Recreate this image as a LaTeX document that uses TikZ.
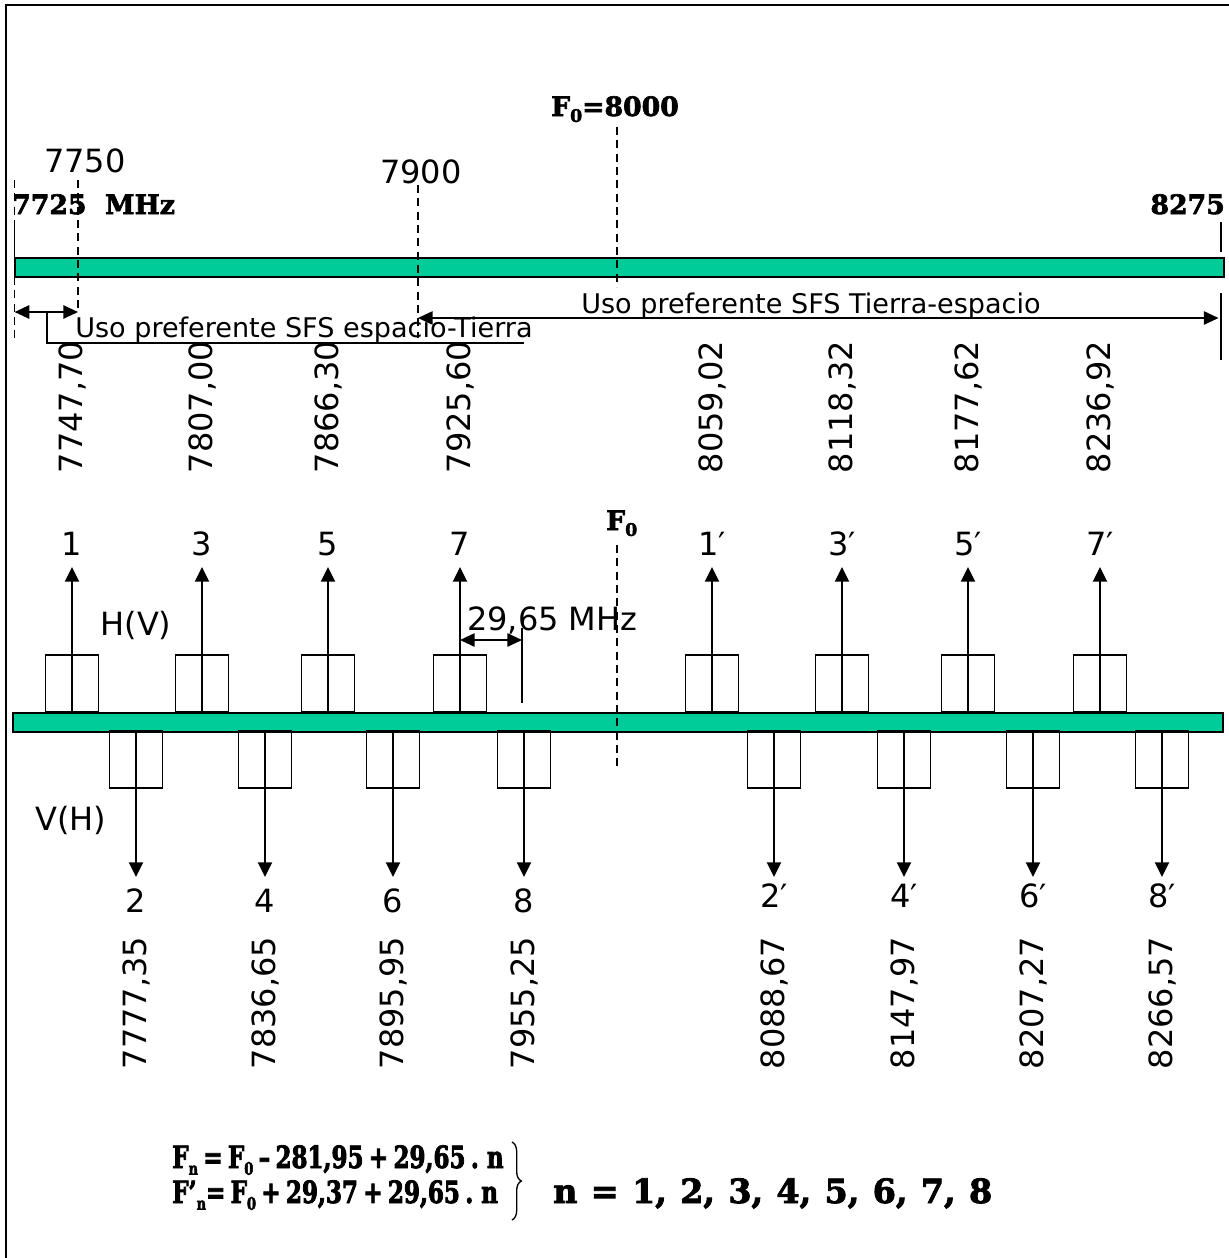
\documentclass[tikz,border=0pt]{standalone}
\usepackage{fontspec}
\setmainfont{DejaVu Sans}
\newfontfamily\heavyserif{DejaVu Serif Bold}[FakeBold=2.5]
\newfontfamily\eqserif{DejaVu Serif Bold}[FakeBold=2.5,FakeStretch=0.75]
\usetikzlibrary{arrows.meta,decorations.pathreplacing}
\definecolor{bandgreen}{RGB}{0,204,153}
\newcommand\bigtxt{\fontsize{24}{28}\selectfont}
\newcommand\smalltxt{\fontsize{20.3}{24}\selectfont}
\newcommand\heavytxt{\heavyserif\fontsize{20}{24}\selectfont}
\newcommand\eqtxt{\eqserif\fontsize{23}{27}\selectfont\spaceskip=4pt\relax}
\newcommand\settxt{\heavyserif\fontsize{25}{30}\selectfont\spaceskip=10pt\relax}
\newcommand\lowidx[1]{\raisebox{-0.22em}{\fontsize{13}{13}\selectfont #1}}

\begin{document}
\begin{tikzpicture}[x=0.75pt,y=-0.75pt,every node/.style={inner sep=0pt},
  band/.style={draw,line width=1.5pt,fill=bandgreen},
  chbox/.style={draw,line width=1.1pt,minimum width=39.75pt,minimum height=42.75pt},
  sig/.style={-{Triangle[width=10.5pt,length=11pt]},line width=1.5pt},
  dim/.style={{Triangle[width=10pt,length=11pt]}-{Triangle[width=10pt,length=11pt]},line width=1.3pt},
  guide/.style={dash pattern=on 6pt off 4pt,line width=0.9pt},
  freq/.style={rotate=90,font=\bigtxt},
  chlab/.style={anchor=base,font=\bigtxt},
  heavy/.style={font=\heavytxt},
  eq/.style={anchor=base west,font=\eqtxt}]
  \useasboundingbox (0,0) rectangle (1229,1258);
  \draw[line width=1.5pt] (6,1258) -- (6,5) -- (1229,5);
  % upper band and its limits
  \draw[band] (14.6,258) rectangle (1224,277);
  \draw[guide] (14.6,180) -- (14.6,223);
  \draw[line width=1pt] (14.6,223) -- (14.6,258);
  \draw[guide] (14.6,277) -- (14.6,343);
  \draw[guide] (78,180) -- (78,313);
  \draw[guide] (418,185) -- (418,338);
  \draw[guide] (617,127) -- (617,287);
  \draw[line width=1pt] (1221,222) -- (1221,252);
  \draw[line width=1pt] (1221,293) -- (1221,360);
  \node[heavy,anchor=base] (fzero) at (615,116) {F\lowidx{0}=8000};
  \node[anchor=base,font=\bigtxt] (f7750) at (85,172) {7750};
  \node[anchor=base,font=\bigtxt] (f7900) at (421,183) {7900};
  \node[heavy,anchor=base west] (fmin) at (12,214) {7725\ \ MHz};
  \node[heavy,anchor=base east] (fmax) at (1225,214) {8275};
  % preferred use
  \coordinate (sdL) at (14.6,312);
  \coordinate (sdR) at (78,312);
  \draw[dim] (sdL) -- (sdR);
  \draw[line width=1pt] (47,312) -- (47,343) -- (524,343);
  \node[anchor=base west,font=\smalltxt] (usedown) at (75,337) {Uso preferente SFS espacio-Tierra};
  \coordinate (suL) at (418,318);
  \coordinate (suR) at (1218.5,318);
  \draw[dim] (suL) -- (suR);
  \node[anchor=base west,font=\smalltxt] (useup) at (581,313) {Uso preferente SFS Tierra-espacio};
  % channel plan
  \draw[band] (12.6,713) rectangle (1222.5,732);
  \draw[guide] (617,545) -- (617,767);
  \node[heavy,anchor=base west] (fzlab) at (606,530) {F\lowidx{0}};
  \foreach \x/\t/\f [count=\i] in {72/1/{7747,70},202/3/{7807,00},328/5/{7866,30},460/7/{7925,60},
      712/1′/{8059,02},842/3′/{8118,32},968/5′/{8177,62},1100/7′/{8236,92}}{
    \node[chbox] (up\i) at (\x,683.5) {};
    \coordinate (upt\i) at (\x,567);
    \draw[sig] (up\i.south) -- (upt\i);
    \node[chlab] (upl\i) at (\x,555) {\t};
    \node[freq] (upf\i) at (\x,407) {\f};
  }
  \foreach \x/\t/\f/\b [count=\i] in {136/2/{7777,35}/912,265/4/{7836,65}/912,393/6/{7895,95}/912,524/8/{7955,25}/912,
      774/2′/{8088,67}/907,904/4′/{8147,97}/907,1033/6′/{8207,27}/907,1162/8′/{8266,57}/907}{
    \node[chbox] (dn\i) at (\x,759.5) {};
    \coordinate (dnt\i) at (\x,877);
    \draw[sig] (dn\i.north) -- (dnt\i);
    \node[chlab] (dnl\i) at (\x,\b) {\t};
    \node[freq] (dnf\i) at (\x,1003) {\f};
  }
  \node[font=\bigtxt] (hpol) at (136,625) {H(V)};
  \node[font=\bigtxt] (vpol) at (71,820) {V(H)};
  % channel spacing
  \coordinate (spA) at (460,640);
  \coordinate (spB) at (522,640);
  \draw[line width=1pt] (522,628) -- (522,703);
  \draw[dim] (spA) -- (spB);
  \node[anchor=base west,font=\bigtxt] (spacing) at (467,630) {29,65 MHz};
  % formulas
  \node[eq] (eqa) at (172,1168) {F\lowidx{n} = F\lowidx{0} – 281,95 + 29,65 . n};
  \node[eq] (eqb) at (172,1203) {F’\lowidx{n}= F\lowidx{0} + 29,37 + 29,65 . n};
  \draw[decorate,decoration={brace,amplitude=7pt},line width=1pt] (512,1142) -- (512,1220);
  \node[anchor=base west,font=\settxt] (nset) at (553,1203) {n = 1, 2, 3, 4, 5, 6, 7, 8};
\end{tikzpicture}
\end{document}
